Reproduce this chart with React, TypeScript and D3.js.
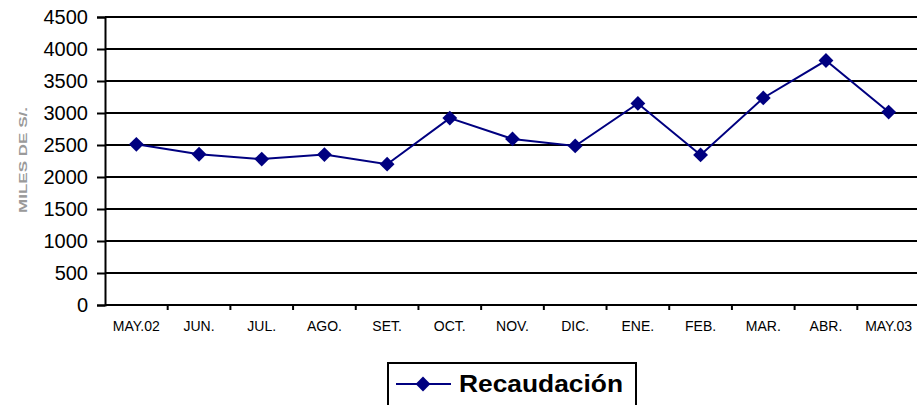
import React, { useEffect, useRef } from 'react';
import * as d3 from 'd3';

const months = ['MAY.02', 'JUN.', 'JUL.', 'AGO.', 'SET.', 'OCT.', 'NOV.', 'DIC.', 'ENE.', 'FEB.', 'MAR.', 'ABR.', 'MAY.03'];
const recaudacion = [2510, 2355, 2280, 2350, 2200, 2920, 2595, 2485, 3150, 2345, 3235, 3820, 3015];
const yTicks = [0, 500, 1000, 1500, 2000, 2500, 3000, 3500, 4000, 4500];

const App = () => {
  const svgRef = useRef(null);

  useEffect(() => {
    const width = 917;
    const height = 405;
    const left = 105;
    const right = 920;
    const top = 17;
    const bottom = 305;
    const font = 'Arial, "Liberation Sans", sans-serif';

    const svg = d3.select(svgRef.current);
    svg.selectAll('*').remove();
    svg.attr('width', width).attr('height', height);

    const x = d3.scaleBand().domain(months).range([left, right]);
    const y = d3.scaleLinear().domain([0, 4500]).range([bottom, top]);

    // horizontal gridlines
    svg.append('g')
      .selectAll('line')
      .data(yTicks)
      .enter()
      .append('line')
      .attr('x1', left)
      .attr('x2', right)
      .attr('y1', (d) => y(d))
      .attr('y2', (d) => y(d))
      .attr('stroke', '#000')
      .attr('stroke-width', 2);

    // y axis
    const yAxis = svg.append('g')
      .attr('transform', `translate(${left},0)`)
      .call(d3.axisLeft(y).tickValues(yTicks).tickSize(8).tickPadding(9).tickFormat(d3.format('d')));
    yAxis.select('.domain').attr('stroke', '#000').attr('stroke-width', 2);
    yAxis.selectAll('.tick line').attr('stroke', '#000').attr('stroke-width', 2);
    yAxis.selectAll('.tick text')
      .attr('font-family', font)
      .attr('font-size', 20)
      .attr('fill', '#000');

    // x axis, ticks between categories
    const boundaries = months.slice(1).map((m) => x(m));
    svg.append('g')
      .selectAll('line')
      .data(boundaries)
      .enter()
      .append('line')
      .attr('x1', (d) => d)
      .attr('x2', (d) => d)
      .attr('y1', bottom)
      .attr('y2', bottom + 5)
      .attr('stroke', '#000')
      .attr('stroke-width', 2);

    svg.append('g')
      .selectAll('text')
      .data(months)
      .enter()
      .append('text')
      .attr('x', (d) => x(d) + x.bandwidth() / 2)
      .attr('y', bottom + 26)
      .attr('text-anchor', 'middle')
      .attr('font-family', font)
      .attr('font-size', 14)
      .attr('fill', '#000')
      .text((d) => d);

    // y title
    svg.append('text')
      .attr('transform', `translate(27,160) rotate(-90)`)
      .attr('text-anchor', 'middle')
      .attr('font-family', font)
      .attr('font-size', 11)
      .attr('font-weight', 'bold')
      .attr('fill', '#9a9a9a')
      .attr('textLength', 106)
      .attr('lengthAdjust', 'spacingAndGlyphs')
      .text('MILES DE S/.');

    // line
    const line = d3.line()
      .x((d, i) => x(months[i]) + x.bandwidth() / 2)
      .y((d) => y(d));
    svg.append('path')
      .datum(recaudacion)
      .attr('d', line)
      .attr('fill', 'none')
      .attr('stroke', '#000080')
      .attr('stroke-width', 2);

    const diamond = d3.symbol().type(d3.symbolDiamond2).size(140);
    svg.append('g')
      .selectAll('path')
      .data(recaudacion)
      .enter()
      .append('path')
      .attr('d', diamond)
      .attr('transform', (d, i) => `translate(${x(months[i]) + x.bandwidth() / 2},${y(d)})`)
      .attr('fill', '#000080');

    // legend
    const lg = svg.append('g');
    lg.append('rect')
      .attr('x', 388)
      .attr('y', 363)
      .attr('width', 248)
      .attr('height', 50)
      .attr('fill', '#fff')
      .attr('stroke', '#000')
      .attr('stroke-width', 2);
    lg.append('line')
      .attr('x1', 396)
      .attr('x2', 451)
      .attr('y1', 384)
      .attr('y2', 384)
      .attr('stroke', '#000080')
      .attr('stroke-width', 2);
    lg.append('path')
      .attr('d', diamond)
      .attr('transform', 'translate(423,384)')
      .attr('fill', '#000080');
    lg.append('text')
      .attr('x', 459)
      .attr('y', 392)
      .attr('font-family', font)
      .attr('font-size', 24)
      .attr('font-weight', 'bold')
      .attr('fill', '#000')
      .attr('textLength', 164)
      .attr('lengthAdjust', 'spacingAndGlyphs')
      .text('Recaudación');
  }, []);

  return (
    <svg ref={svgRef} style={{ position: 'absolute', left: 0, top: 0 }}></svg>
  );
};

export default App;
